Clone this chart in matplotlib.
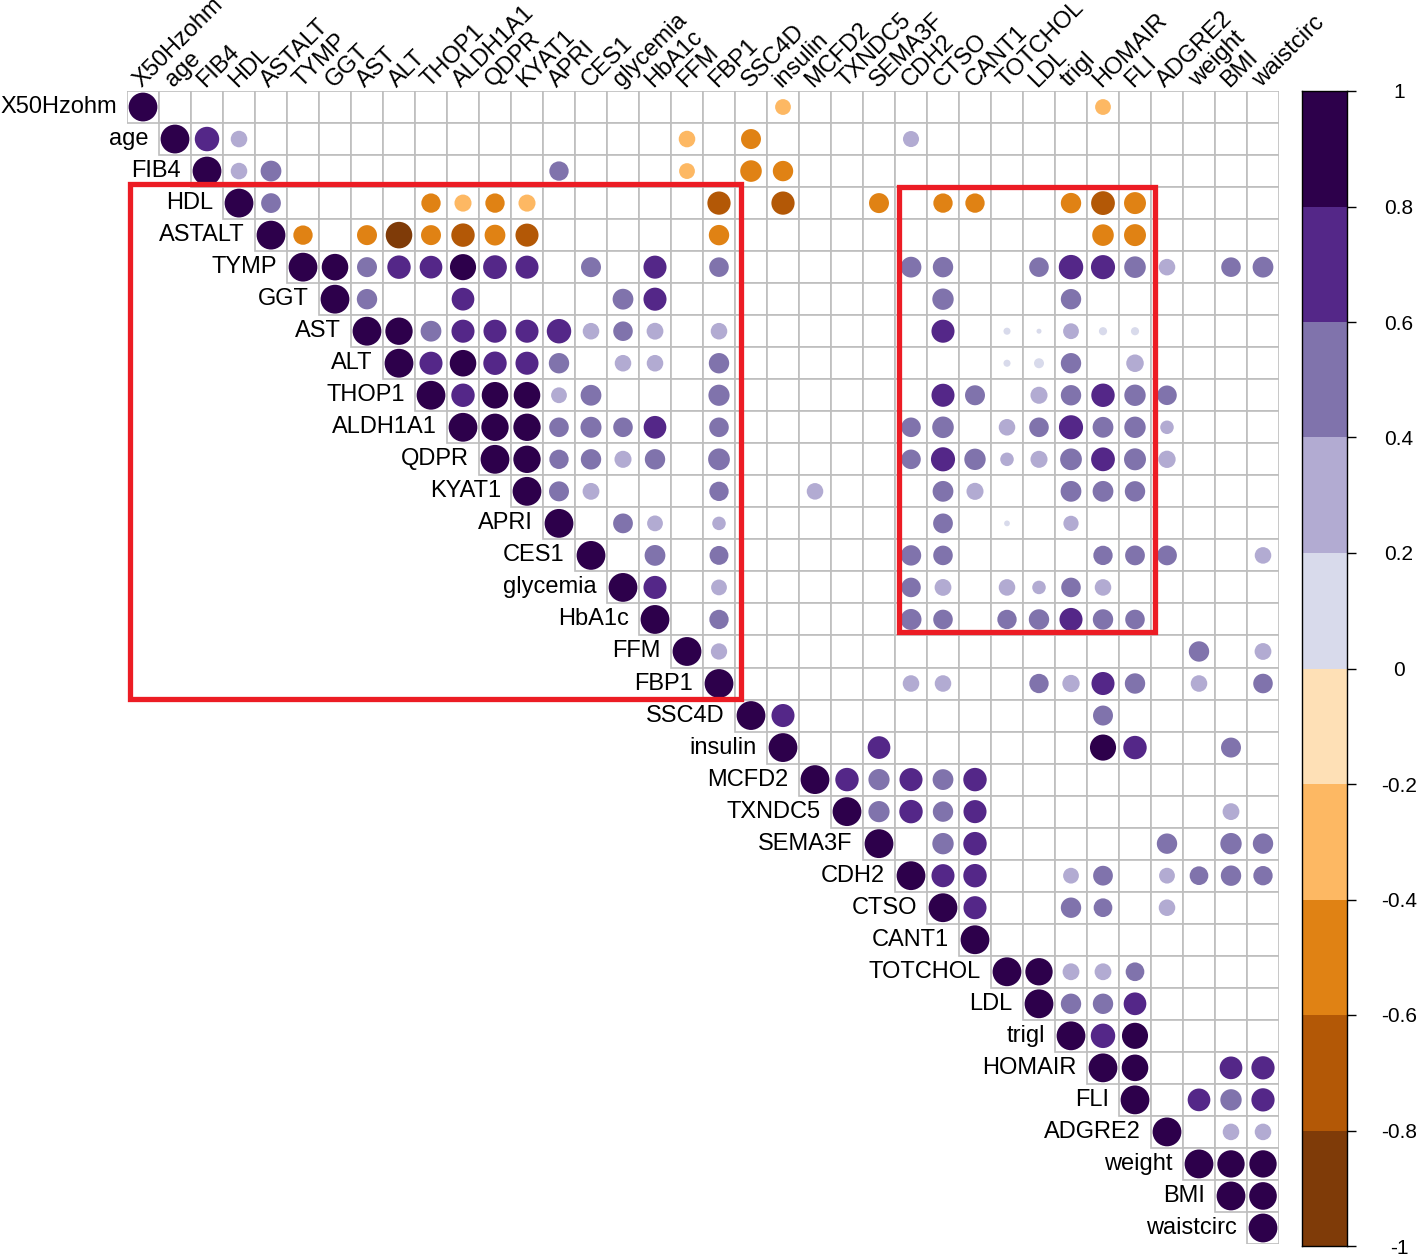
import numpy as np
import matplotlib
matplotlib.use("Agg")
import matplotlib.pyplot as plt
from matplotlib.patches import Circle, Rectangle

plt.rcParams['font.family'] = ['Liberation Sans', 'DejaVu Sans']

## variable order (rows top->bottom, columns left->right)
variables = ["X50Hzohm", "age", "FIB4", "HDL", "ASTALT", "TYMP", "GGT", "AST", "ALT",
             "THOP1", "ALDH1A1", "QDPR", "KYAT1", "APRI", "CES1", "glycemia", "HbA1c",
             "FFM", "FBP1", "SSC4D", "insulin", "MCFD2", "TXNDC5", "SEMA3F", "CDH2",
             "CTSO", "CANT1", "TOTCHOL", "LDL", "trigl", "HOMAIR", "FLI", "ADGRE2",
             "weight", "BMI", "waistcirc"]

## significant correlations, upper triangle, one list per row (blank cells left out)
c_X50Hzohm = [("insulin", -0.3), ("HOMAIR", -0.3)]
c_age = [("FIB4", 0.72), ("HDL", 0.33), ("FFM", -0.33), ("SSC4D", -0.48), ("CDH2", 0.31)]
c_FIB4 = [("HDL", 0.33), ("ASTALT", 0.52), ("APRI", 0.45), ("FFM", -0.3), ("SSC4D", -0.56),
          ("insulin", -0.5)]
c_HDL = [("ASTALT", 0.47), ("THOP1", -0.45), ("ALDH1A1", -0.35), ("QDPR", -0.45), ("KYAT1", -0.35),
         ("FBP1", -0.65), ("insulin", -0.65), ("SEMA3F", -0.48), ("CTSO", -0.45), ("CANT1", -0.45),
         ("trigl", -0.5), ("HOMAIR", -0.68), ("FLI", -0.58)]
c_ASTALT = [("TYMP", -0.45), ("AST", -0.48), ("ALT", -0.85), ("THOP1", -0.48), ("ALDH1A1", -0.66),
            ("QDPR", -0.52), ("KYAT1", -0.64), ("FBP1", -0.5), ("HOMAIR", -0.56), ("FLI", -0.58)]
c_TYMP = [("GGT", 0.85), ("AST", 0.48), ("ALT", 0.66), ("THOP1", 0.62), ("ALDH1A1", 0.82),
          ("QDPR", 0.68), ("KYAT1", 0.64), ("CES1", 0.48), ("HbA1c", 0.64), ("FBP1", 0.46),
          ("CDH2", 0.52), ("CTSO", 0.5), ("LDL", 0.46), ("trigl", 0.72), ("HOMAIR", 0.7),
          ("FLI", 0.56), ("ADGRE2", 0.33), ("BMI", 0.46), ("waistcirc", 0.52)]
c_GGT = [("AST", 0.5), ("ALDH1A1", 0.62), ("glycemia", 0.52), ("HbA1c", 0.64), ("CTSO", 0.55),
         ("trigl", 0.5)]
c_AST = [("ALT", 0.9), ("THOP1", 0.52), ("ALDH1A1", 0.64), ("QDPR", 0.64), ("KYAT1", 0.64),
         ("APRI", 0.72), ("CES1", 0.33), ("glycemia", 0.46), ("HbA1c", 0.34), ("FBP1", 0.33),
         ("CTSO", 0.64), ("TOTCHOL", 0.06), ("LDL", 0.03), ("trigl", 0.3), ("HOMAIR", 0.08),
         ("FLI", 0.08)]
c_ALT = [("THOP1", 0.64), ("ALDH1A1", 0.85), ("QDPR", 0.66), ("KYAT1", 0.64), ("APRI", 0.5),
         ("glycemia", 0.33), ("HbA1c", 0.33), ("FBP1", 0.5), ("TOTCHOL", 0.06), ("LDL", 0.12),
         ("trigl", 0.5), ("FLI", 0.37)]
c_THOP1 = [("ALDH1A1", 0.66), ("QDPR", 0.85), ("KYAT1", 0.85), ("APRI", 0.3), ("CES1", 0.52),
           ("FBP1", 0.54), ("CTSO", 0.64), ("CANT1", 0.48), ("LDL", 0.35), ("trigl", 0.5),
           ("HOMAIR", 0.66), ("FLI", 0.55), ("ADGRE2", 0.46)]
c_ALDH1A1 = [("QDPR", 0.9), ("KYAT1", 0.9), ("APRI", 0.46), ("CES1", 0.53), ("glycemia", 0.46),
             ("HbA1c", 0.62), ("FBP1", 0.46), ("CDH2", 0.46), ("CTSO", 0.56), ("TOTCHOL", 0.33),
             ("LDL", 0.46), ("trigl", 0.7), ("HOMAIR", 0.52), ("FLI", 0.55), ("ADGRE2", 0.22)]
c_QDPR = [("KYAT1", 0.9), ("APRI", 0.45), ("CES1", 0.5), ("glycemia", 0.35), ("HbA1c", 0.5),
          ("FBP1", 0.57), ("CDH2", 0.46), ("CTSO", 0.7), ("CANT1", 0.55), ("TOTCHOL", 0.22),
          ("LDL", 0.35), ("trigl", 0.57), ("HOMAIR", 0.68), ("FLI", 0.58), ("ADGRE2", 0.36)]
c_KYAT1 = [("APRI", 0.48), ("CES1", 0.34), ("FBP1", 0.45), ("MCFD2", 0.33), ("CTSO", 0.52),
           ("CANT1", 0.35), ("trigl", 0.52), ("HOMAIR", 0.52), ("FLI", 0.5)]
c_APRI = [("glycemia", 0.47), ("HbA1c", 0.3), ("FBP1", 0.22), ("CTSO", 0.47), ("TOTCHOL", 0.04),
          ("trigl", 0.28)]
c_CES1 = [("HbA1c", 0.52), ("FBP1", 0.43), ("CDH2", 0.5), ("CTSO", 0.46), ("HOMAIR", 0.45),
          ("FLI", 0.47), ("ADGRE2", 0.47), ("waistcirc", 0.33)]
c_glycemia = [("HbA1c", 0.64), ("FBP1", 0.3), ("CDH2", 0.46), ("CTSO", 0.34), ("TOTCHOL", 0.33),
              ("LDL", 0.22), ("trigl", 0.46), ("HOMAIR", 0.33)]
c_HbA1c = [("FBP1", 0.45), ("CDH2", 0.53), ("CTSO", 0.46), ("TOTCHOL", 0.45), ("LDL", 0.5),
           ("trigl", 0.64), ("HOMAIR", 0.5), ("FLI", 0.46)]
c_FFM = [("FBP1", 0.32), ("weight", 0.5), ("waistcirc", 0.34)]
c_FBP1 = [("CDH2", 0.33), ("CTSO", 0.33), ("LDL", 0.45), ("trigl", 0.36), ("HOMAIR", 0.64),
          ("FLI", 0.5), ("weight", 0.33), ("waistcirc", 0.46)]
c_SSC4D = [("insulin", 0.64), ("HOMAIR", 0.48)]
c_insulin = [("SEMA3F", 0.62), ("HOMAIR", 0.82), ("FLI", 0.66), ("BMI", 0.48)]
c_MCFD2 = [("TXNDC5", 0.66), ("SEMA3F", 0.54), ("CDH2", 0.64), ("CTSO", 0.52), ("CANT1", 0.66)]
c_TXNDC5 = [("SEMA3F", 0.54), ("CDH2", 0.66), ("CTSO", 0.5), ("CANT1", 0.64), ("BMI", 0.34)]
c_SEMA3F = [("CTSO", 0.55), ("CANT1", 0.66), ("ADGRE2", 0.5), ("BMI", 0.55), ("waistcirc", 0.5)]
c_CDH2 = [("CTSO", 0.64), ("CANT1", 0.66), ("trigl", 0.3), ("HOMAIR", 0.47), ("ADGRE2", 0.3),
          ("weight", 0.42), ("BMI", 0.5), ("waistcirc", 0.45)]
c_CTSO = [("CANT1", 0.64), ("trigl", 0.5), ("HOMAIR", 0.42), ("ADGRE2", 0.33)]
c_CANT1 = []
c_TOTCHOL = [("LDL", 0.9), ("trigl", 0.34), ("HOMAIR", 0.34), ("FLI", 0.42)]
c_LDL = [("trigl", 0.5), ("HOMAIR", 0.5), ("FLI", 0.62)]
c_trigl = [("HOMAIR", 0.72), ("FLI", 0.82)]
c_HOMAIR = [("FLI", 0.85), ("BMI", 0.62), ("waistcirc", 0.65)]
c_FLI = [("weight", 0.62), ("BMI", 0.55), ("waistcirc", 0.65)]
c_ADGRE2 = [("BMI", 0.33), ("waistcirc", 0.33)]
c_weight = [("BMI", 0.9), ("waistcirc", 0.9)]
c_BMI = [("waistcirc", 0.92)]
c_waistcirc = []

row_lists = [c_X50Hzohm, c_age, c_FIB4, c_HDL, c_ASTALT, c_TYMP, c_GGT, c_AST, c_ALT,
             c_THOP1, c_ALDH1A1, c_QDPR, c_KYAT1, c_APRI, c_CES1, c_glycemia, c_HbA1c,
             c_FFM, c_FBP1, c_SSC4D, c_insulin, c_MCFD2, c_TXNDC5, c_SEMA3F, c_CDH2,
             c_CTSO, c_CANT1, c_TOTCHOL, c_LDL, c_trigl, c_HOMAIR, c_FLI, c_ADGRE2,
             c_weight, c_BMI, c_waistcirc]

## PuOr, 10 bins from -1 to 1
bin_colors = ["#7F3B08", "#B35806", "#E08214", "#FDB863", "#FEE0B6",
              "#D8DAEB", "#B2ABD2", "#8073AC", "#542788", "#2D004B"]
cbar_labels = ["-1", "-0.8", "-0.6", "-0.4", "-0.2", "0", "0.2", "0.4", "0.6", "0.8", "1"]

n = len(variables)
idx = {v: k for k, v in enumerate(variables)}
corr = np.eye(n)
for i, lst in enumerate(row_lists):
    for other, r in lst:
        corr[i, idx[other]] = r

W, H = 1417, 1254
fig = plt.figure(figsize=(W / 100, H / 100), dpi=100)
ax = fig.add_axes([127 / W, (H - 1244) / H, 1152 / W, 1153 / H])
ax.set_xlim(-0.5, n - 0.5)
ax.set_ylim(n - 0.5, -0.5)
ax.axis('off')

for i in range(n):
    for j in range(i, n):
        ax.add_patch(Rectangle((j - 0.5, i - 0.5), 1, 1, fc='white', ec='#BEBEBE', lw=1.2, zorder=1))
        r = corr[i, j]
        if r != 0:
            k = int(np.clip(np.floor((r + 1) / 0.2 + 1e-9), 0, 9))
            ax.add_patch(Circle((j, i), 0.45 * np.sqrt(abs(r)), color=bin_colors[k], lw=0, zorder=3))
    ax.text(i - 0.82, i, variables[i], ha='right', va='center', fontsize=17)
    ax.text(i - 0.05, -0.6, variables[i], rotation=45, rotation_mode='anchor',
            ha='left', va='baseline', fontsize=17)

# highlighted blocks
ax.add_patch(Rectangle((-0.41, 2.41), 19.1, 16.06, fill=False, ec='#EC1C24', lw=3.8, zorder=5, clip_on=False))
ax.add_patch(Rectangle((23.63, 2.5), 8.0, 13.88, fill=False, ec='#EC1C24', lw=3.8, zorder=5, clip_on=False))

# colour legend
cax = fig.add_axes([1302 / W, (H - 1246) / H, 45 / W, 1155 / H])
for k in range(10):
    cax.add_patch(Rectangle((0, -1 + 0.2 * k), 1, 0.2, color=bin_colors[k], lw=0))
cax.set_xlim(0, 1)
cax.set_ylim(-1, 1)
cax.set_xticks([])
cax.yaxis.tick_right()
cax.set_yticks(np.linspace(-1, 1, 11))
cax.set_yticklabels(cbar_labels)
cax.tick_params(axis='y', length=6.5, width=1, labelsize=15, pad=31)
for lab in cax.get_yticklabels():
    lab.set_horizontalalignment('center')
for sp in cax.spines.values():
    sp.set_linewidth(1)

fig.savefig('out.png', dpi=100)
